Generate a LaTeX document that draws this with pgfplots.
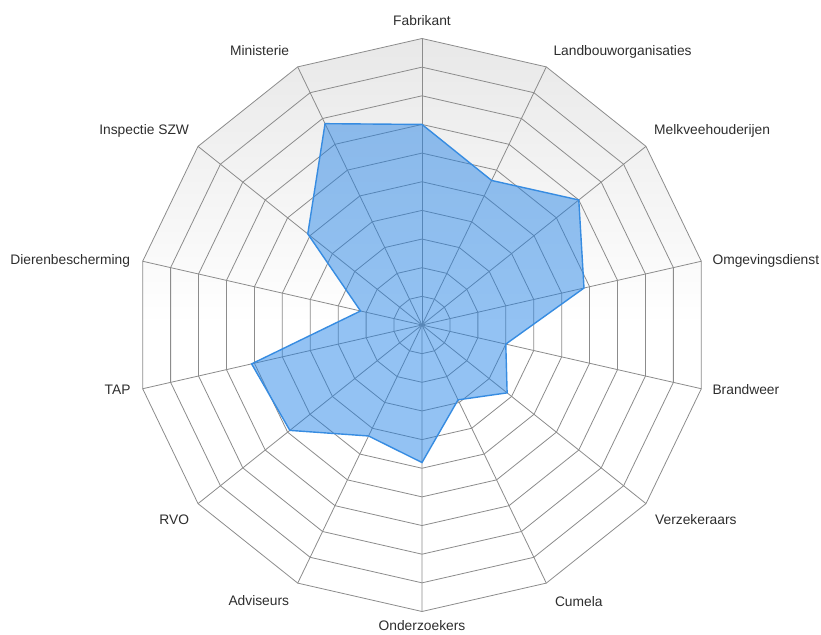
\documentclass[border=0pt]{standalone}
\usepackage{pgfplots}
\pgfplotsset{compat=1.18}
\usepackage{pgfplotstable}
\usepackage{fontspec}
\setmainfont{Liberation Sans}
\usetikzlibrary{calc}
\definecolor{gridc}{RGB}{140,140,140}
\definecolor{fillc}{RGB}{30,128,230}
\definecolor{edgec}{RGB}{55,140,225}
\definecolor{txt}{RGB}{45,45,45}
\pgfdeclareverticalshading{bgshade}{100bp}{color(0bp)=(white); color(50bp)=(white); color(75bp)=(black!9); color(100bp)=(black!9)}

\pgfplotstableread{
k v
0 7.0
1 5.6
2 7.0
3 5.8
4 3.0
5 3.8
6 2.9
7 4.8
8 4.3
9 5.9
10 6.1
11 2.2
12 5.1
13 7.8
14 7.0
}\radardata

\begin{document}
\begin{tikzpicture}[lab/.style={font=\fontsize{13.8}{16}\selectfont, text=txt, inner sep=0pt}]
\begin{axis}[
  x=28.65pt, y=28.65pt,
  xmin=-11, xmax=11, ymin=-11, ymax=11,
  hide axis, clip=false,
]
% background with gradient
\addplot[draw=none, shading=bgshade, domain=0:14, samples=15]
  ({10*cos(90-x*360/14)}, {10*sin(90-x*360/14)});
% rings
\pgfplotsinvokeforeach{1,...,10}{
  \addplot[gridc, line width=0.8pt, no marks, domain=0:14, samples=15]
    ({#1*cos(90-x*360/14)}, {#1*sin(90-x*360/14)});
}
% spokes
\pgfplotsinvokeforeach{0,...,13}{
  \addplot[gridc, line width=0.8pt, no marks, domain=0:10, samples=2]
    ({x*cos(90-#1*360/14)}, {x*sin(90-#1*360/14)});
}
% data
\addplot[draw=edgec, line width=1.4pt, fill=fillc, fill opacity=0.48, no marks]
  table[x expr={\thisrow{v}*cos(90-\thisrow{k}*360/14)}, y expr={\thisrow{v}*sin(90-\thisrow{k}*360/14)}] {\radardata};

\coordinate (C) at (axis cs:0,0);
% labels
\node[lab, anchor=base, yshift=12.5pt] at (axis cs:0,10) {Fabrikant};
\node[lab, anchor=base west, xshift=7pt, yshift=11pt] at (axis cs:4.3388,9.0097) {Landbouworganisaties};
\node[lab, anchor=base west, xshift=8pt, yshift=12pt] at (axis cs:7.8183,6.2349) {Melkveehouderijen};
\node[lab, anchor=base west, xshift=11pt, yshift=-2.8pt] at (axis cs:9.7493,2.2252) {Omgevingsdienst};
\node[lab, anchor=base west, xshift=11pt, yshift=-6pt] at (axis cs:9.7493,-2.2252) {Brandweer};
\node[lab, anchor=base west, xshift=9pt, yshift=-21pt] at (axis cs:7.8183,-6.2349) {Verzekeraars};
\node[lab, anchor=base west, xshift=8.5pt, yshift=-23pt] at (axis cs:4.3388,-9.0097) {Cumela};
\node[lab, anchor=base, yshift=-19pt] at (axis cs:0,-10) {Onderzoekers};
\node[lab, anchor=base east, xshift=-8.4pt, yshift=-22pt] at (axis cs:-4.3388,-9.0097) {Adviseurs};
\node[lab, anchor=base east, xshift=-8.8pt, yshift=-20.4pt] at (axis cs:-7.8183,-6.2349) {RVO};
\node[lab, anchor=base east, xshift=-12pt, yshift=-6pt] at (axis cs:-9.7493,-2.2252) {TAP};
\node[lab, anchor=base east, xshift=-12.5pt, yshift=-2.8pt] at (axis cs:-9.7493,2.2252) {Dierenbescherming};
\node[lab, anchor=base east, xshift=-8.8pt, yshift=12pt] at (axis cs:-7.8183,6.2349) {Inspectie SZW};
\node[lab, anchor=base east, xshift=-8.4pt, yshift=11pt] at (axis cs:-4.3388,9.0097) {Ministerie};
\end{axis}
\pgfresetboundingbox
\path[use as bounding box] ($(C)+(-422pt,-309pt)$) rectangle ($(C)+(399pt,325pt)$);
\end{tikzpicture}
\end{document}
